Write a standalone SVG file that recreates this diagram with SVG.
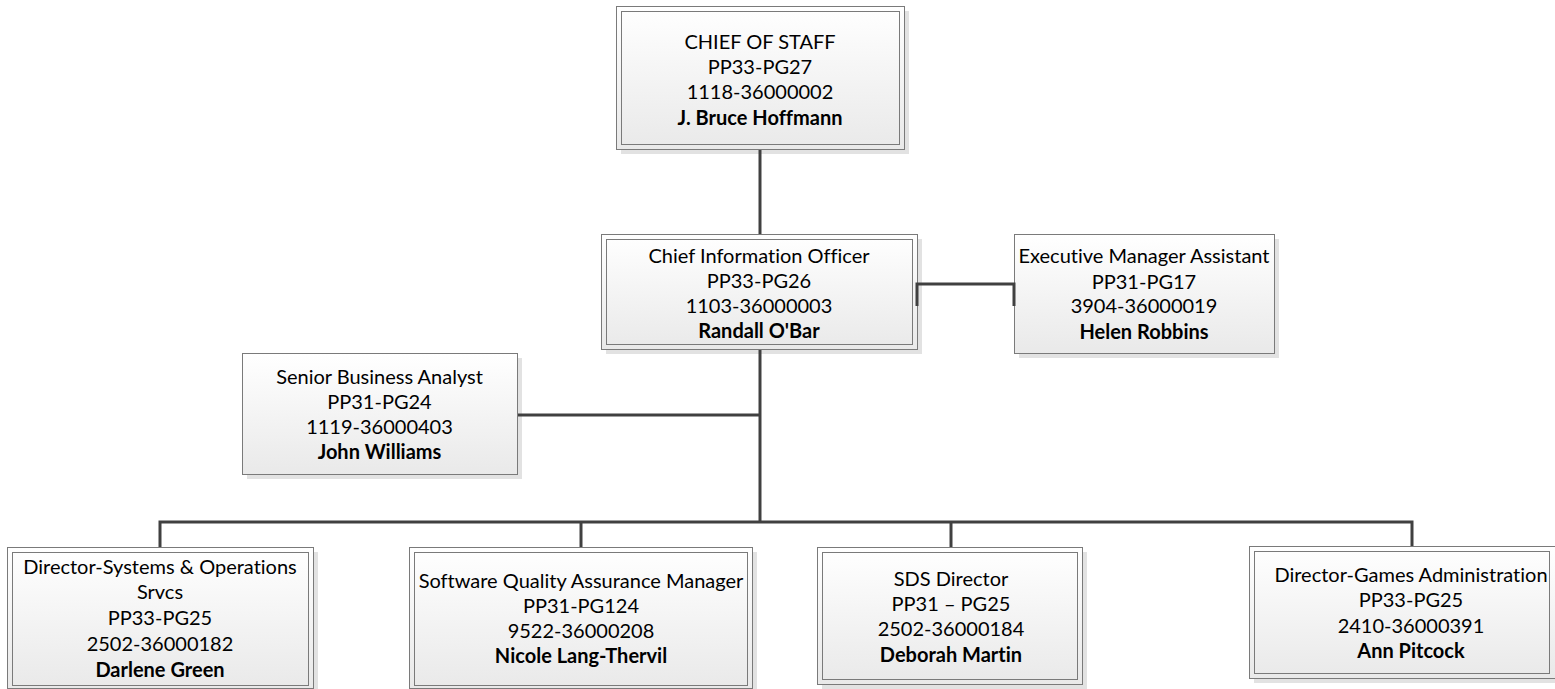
<svg xmlns="http://www.w3.org/2000/svg" width="1555" height="689" viewBox="0 0 1555 689">
  <defs>
    <linearGradient id="boxFill" x1="0" y1="0" x2="0" y2="1">
      <stop offset="0" stop-color="#ffffff"/>
      <stop offset="1" stop-color="#e9e9e9"/>
    </linearGradient>
  </defs>
  <style>
    .shadow { fill: #e2e2e2; }
    .outer { fill: url(#boxFill); stroke: #7a7a7a; stroke-width: 1; }
    .inner { fill: none; stroke: #7a7a7a; stroke-width: 1; }
    .single { fill: url(#boxFill); stroke: #7a7a7a; stroke-width: 1; }
    .conn { fill: none; stroke: #404040; stroke-width: 3; stroke-linecap: butt; }
    text { font-family: Lato, "Liberation Sans", sans-serif; font-size: 20px; fill: #000; text-anchor: middle; font-variant-ligatures: none; }
    .name { font-weight: bold; }
  </style>

  <!-- Chief of Staff -->
  <g id="chief-of-staff">
    <rect class="shadow" x="621" y="11" width="288" height="143"/>
    <rect class="outer" x="616.5" y="6.5" width="288" height="143"/>
    <rect class="inner" x="621.5" y="11.5" width="278" height="133"/>
    <text x="760" y="49">CHIEF OF STAFF</text>
    <text x="760" y="74">PP33-PG27</text>
    <text x="760" y="99">1118-36000002</text>
    <text x="760" y="125" class="name">J. Bruce Hoffmann</text>
  </g>

  <!-- Chief Information Officer -->
  <g id="cio">
    <rect class="shadow" x="606" y="239" width="316" height="115"/>
    <rect class="outer" x="601.5" y="234.5" width="316" height="115"/>
    <rect class="inner" x="606.5" y="239.5" width="306" height="105"/>
    <text x="759" y="263">Chief Information Officer</text>
    <text x="759" y="288">PP33-PG26</text>
    <text x="759" y="313">1103-36000003</text>
    <text x="759" y="338" class="name">Randall O'Bar</text>
  </g>

  <!-- Executive Manager Assistant -->
  <g id="exec-assistant">
    <rect class="shadow" x="1019" y="239" width="260" height="119"/>
    <rect class="single" x="1014.5" y="234.5" width="260" height="119"/>
    <text x="1144" y="263">Executive Manager Assistant</text>
    <text x="1144" y="289">PP31-PG17</text>
    <text x="1144" y="313">3904-36000019</text>
    <text x="1144" y="339" class="name">Helen Robbins</text>
  </g>

  <!-- Senior Business Analyst -->
  <g id="business-analyst">
    <rect class="shadow" x="247" y="358" width="275" height="121"/>
    <rect class="single" x="242.5" y="353.5" width="275" height="121"/>
    <text x="379.5" y="384">Senior Business Analyst</text>
    <text x="379.5" y="409">PP31-PG24</text>
    <text x="379.5" y="434">1119-36000403</text>
    <text x="379.5" y="459" class="name">John Williams</text>
  </g>

  <!-- Director-Systems & Operations Srvcs -->
  <g id="systems-ops">
    <rect class="shadow" x="12" y="552" width="306" height="141"/>
    <rect class="outer" x="7.5" y="547.5" width="306" height="141"/>
    <rect class="inner" x="12.5" y="552.5" width="296" height="133"/>
    <text x="160" y="574">Director-Systems &amp; Operations</text>
    <text x="160" y="599">Srvcs</text>
    <text x="160" y="625">PP33-PG25</text>
    <text x="160" y="651">2502-36000182</text>
    <text x="160" y="677" class="name">Darlene Green</text>
  </g>

  <!-- Software Quality Assurance Manager -->
  <g id="software-qa">
    <rect class="shadow" x="414" y="552" width="343" height="141"/>
    <rect class="outer" x="409.5" y="547.5" width="343" height="141"/>
    <rect class="inner" x="414.5" y="552.5" width="333" height="133"/>
    <text x="581" y="588">Software Quality Assurance Manager</text>
    <text x="581" y="613">PP31-PG124</text>
    <text x="581" y="638">9522-36000208</text>
    <text x="581" y="663" class="name">Nicole Lang-Thervil</text>
  </g>

  <!-- SDS Director -->
  <g id="sds-director">
    <rect class="shadow" x="822" y="552" width="265" height="137"/>
    <rect class="outer" x="817.5" y="547.5" width="265" height="137"/>
    <rect class="inner" x="822.5" y="552.5" width="255" height="127"/>
    <text x="951" y="586">SDS Director</text>
    <text x="951" y="611">PP31 – PG25</text>
    <text x="951" y="636">2502-36000184</text>
    <text x="951" y="662" class="name">Deborah Martin</text>
  </g>

  <!-- Director-Games Administration -->
  <g id="games-admin">
    <rect class="shadow" x="1254" y="551" width="306" height="132"/>
    <rect class="outer" x="1249.5" y="546.5" width="306" height="132"/>
    <rect class="inner" x="1254.5" y="551.5" width="295" height="122"/>
    <text x="1411" y="582">Director-Games Administration</text>
    <text x="1411" y="607">PP33-PG25</text>
    <text x="1411" y="633">2410-36000391</text>
    <text x="1411" y="658" class="name">Ann Pitcock</text>
  </g>

  <!-- reporting lines, drawn over the box edges -->
  <g id="connectors">
    <path class="conn" d="M760 150 V234"/>
    <path class="conn" d="M760 350 V522"/>
    <path class="conn" d="M518 415 H760"/>
    <path class="conn" d="M917 306 V284 H1014 V306"/>
    <path class="conn" d="M160 547 V522 H1412 V546"/>
    <path class="conn" d="M581 522 V547"/>
    <path class="conn" d="M951 522 V547"/>
  </g>
</svg>
